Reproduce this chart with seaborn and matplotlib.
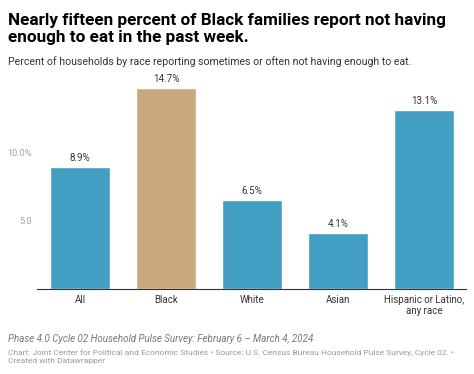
import matplotlib
matplotlib.use("Agg")
import matplotlib.pyplot as plt
import seaborn as sns
import pandas as pd

categories = ["All", "Black", "White", "Asian", "Hispanic or Latino,\nany race"]
values = [8.9, 14.7, 6.5, 4.1, 13.1]
colors = ["#429fc3", "#c8a87c", "#429fc3", "#429fc3", "#429fc3"]
ytick_vals = [5, 10]
ytick_labels = ["5.0", "10.0%"]

title = "Nearly fifteen percent of Black families report not having\nenough to eat in the past week."
subtitle = "Percent of households by race reporting sometimes or often not having enough to eat."
note = "Phase 4.0 Cycle 02 Household Pulse Survey: February 6 \u2013 March 4, 2024"
credit = ("Chart: Joint Center for Political and Economic Studies \u2022 Source: U.S. Census Bureau Household Pulse Survey, Cycle 02. \u2022\n"
          "Created with Datawrapper")

sns.set_theme(style="white")
plt.rcParams["font.family"] = ["Roboto", "DejaVu Sans"]

df = pd.DataFrame({"cat": categories, "val": values})

fig = plt.figure(figsize=(4.74, 3.74), dpi=100)
ax = fig.add_axes([0.078, 0.227, 0.905, 0.548])

sns.barplot(data=df, x="cat", y="val", hue="cat", palette=colors, legend=False,
            width=0.7, ax=ax, saturation=1)

ax.set_ylim(0, 15)
ax.set_xlim(-0.5, 4.49)
ax.set_yticks(ytick_vals)
ax.set_yticklabels(ytick_labels, color="#a0a0a0", fontsize=6.6)
ax.tick_params(axis="y", length=0, pad=4)
ax.tick_params(axis="x", length=0, pad=4, labelsize=7, labelcolor="#333333")
ax.set_xlabel("")
ax.set_ylabel("")
for s in ["top", "right", "left"]:
    ax.spines[s].set_visible(False)
ax.spines["bottom"].set_color("#333333")
ax.spines["bottom"].set_linewidth(0.8)

for c in ax.containers:
    ax.bar_label(c, labels=[f"{v:.1f}%" for v in c.datavalues], padding=3,
                 fontsize=7, color="#333333")

fig.text(0.017, 0.965, title, fontsize=12.3, fontweight="bold", va="top", color="#000000",
         linespacing=1.12)
fig.text(0.017, 0.85, subtitle, fontsize=7.6, va="top", color="#333333")
fig.text(0.017, 0.108, note, fontsize=7, style="italic", va="top", color="#777777")
fig.text(0.017, 0.066, credit, fontsize=6.0, va="top", color="#999999", linespacing=1.3)

fig.savefig("out.png", dpi=100, facecolor="white")
